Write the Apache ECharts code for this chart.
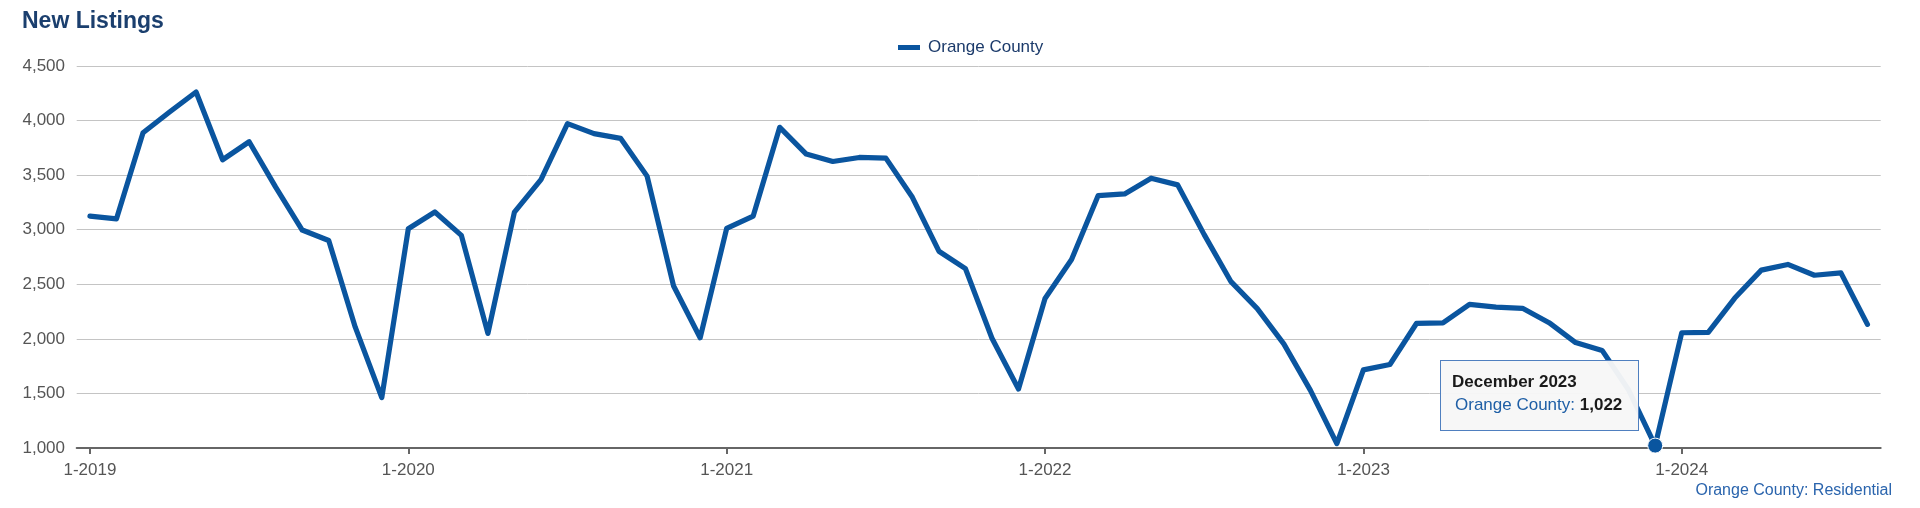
<!DOCTYPE html>
<html>
<head>
<meta charset="utf-8">
<script src="https://cdn.jsdelivr.net/npm/echarts@6/dist/echarts.min.js"></script>
<style>
html,body{margin:0;padding:0;background:#fff;}
#chart{width:1920px;height:508px;}
</style>
</head>
<body>
<div id="chart"></div>
<script>
const categories = [
  "1-2019","2-2019","3-2019","4-2019","5-2019","6-2019","7-2019","8-2019","9-2019","10-2019","11-2019","12-2019",
  "1-2020","2-2020","3-2020","4-2020","5-2020","6-2020","7-2020","8-2020","9-2020","10-2020","11-2020","12-2020",
  "1-2021","2-2021","3-2021","4-2021","5-2021","6-2021","7-2021","8-2021","9-2021","10-2021","11-2021","12-2021",
  "1-2022","2-2022","3-2022","4-2022","5-2022","6-2022","7-2022","8-2022","9-2022","10-2022","11-2022","12-2022",
  "1-2023","2-2023","3-2023","4-2023","5-2023","6-2023","7-2023","8-2023","9-2023","10-2023","11-2023","12-2023",
  "1-2024","2-2024","3-2024","4-2024","5-2024","6-2024","7-2024","8-2024"
];
const newListings = [
  3125, 3100, 3888, 4078, 4262, 3641, 3806, 3390, 2997, 2901, 2107, 1462,
  3009, 3162, 2948, 2050, 3162, 3459, 3972, 3880, 3837, 3491, 2484, 2010,
  3012, 3125, 3938, 3693, 3625, 3662, 3656, 3297, 2803, 2643, 2006, 1540,
  2370, 2727, 3312, 3328, 3472, 3411, 2955, 2527, 2277, 1954, 1530, 1040,
  1716, 1765, 2141, 2147, 2316, 2291, 2280, 2148, 1966, 1894, 1531, 1022,
  2056, 2060, 2374, 2630, 2682, 2583, 2605, 2133
];
const monthNames = ["January","February","March","April","May","June","July","August","September","October","November","December"];
const yTicks = [1000, 1500, 2000, 2500, 3000, 3500, 4000, 4500];
const seriesName = "Orange County";
const highlightIndex = 59;

const FONT = "'Liberation Sans', Arial, Helvetica, sans-serif";
const BLUE = "#0a559f";

const chart = echarts.init(document.getElementById('chart'), null, {renderer: 'canvas'});

const seriesData = newListings.map((v, i) => i === highlightIndex
  ? {value: v, symbol: 'circle', symbolSize: 15, itemStyle: {color: BLUE, borderColor: '#fff', borderWidth: 1}}
  : {value: v});

function fmt(n){ return n.toLocaleString('en-US'); }

chart.setOption({
  animation: false,
  title: {
    text: 'New Listings',
    left: 22, top: 10.5, padding: 0,
    textStyle: {fontFamily: FONT, fontSize: 23, fontWeight: 'bold', color: '#1b3f6e'}
  },
  legend: {
    data: [{name: seriesName, icon: 'rect'}],
    left: 898, top: 39, padding: 0,
    itemWidth: 22, itemHeight: 5,
    textStyle: {fontFamily: FONT, fontSize: 17, color: '#1c3b6b', padding: [0, 0, 0, 3]}
  },
  grid: {left: 76.7, right: 39.3, top: 66, bottom: 60, containLabel: false},
  tooltip: {
    trigger: 'item',
    alwaysShowContent: true,
    triggerOn: 'none',
    transitionDuration: 0,
    position: [1440, 360],
    backgroundColor: 'rgba(247,247,247,0.96)',
    borderColor: '#4f7fbf',
    borderWidth: 1,
    padding: [9, 11, 14, 11],
    textStyle: {fontFamily: FONT, fontSize: 17, color: '#222'},
    extraCssText: 'box-shadow:none;border-radius:0;width:199px;height:71px;box-sizing:border-box;line-height:23px;',
    formatter: function (p) {
      const parts = categories[p.dataIndex].split('-');
      const title = monthNames[parseInt(parts[0], 10) - 1] + ' ' + parts[1];
      return '<div style="font-weight:bold;color:#1a1a1a;">' + title + '</div>' +
             '<div style="padding-left:3px;"><span style="color:#1f5fa6;">' + p.seriesName + ': </span>' +
             '<b style="color:#1a1a1a;">' + fmt(p.value) + '</b></div>';
    }
  },
  xAxis: {
    type: 'category',
    data: categories,
    boundaryGap: true,
    axisLine: {show: true, lineStyle: {color: '#666', width: 2}},
    axisTick: {show: true, alignWithLabel: true, length: 6, interval: (i) => i % 12 === 0, lineStyle: {color: '#666', width: 2}},
    axisLabel: {interval: (i) => i % 12 === 0, fontFamily: FONT, fontSize: 17, color: '#555', margin: 14},
    splitLine: {show: false}
  },
  yAxis: {
    type: 'value',
    min: yTicks[0], max: yTicks[yTicks.length - 1], interval: yTicks[1] - yTicks[0],
    axisLine: {show: false},
    axisTick: {show: false},
    axisLabel: {fontFamily: FONT, fontSize: 17, color: '#555', margin: 11.7, formatter: (v) => fmt(v)},
    splitLine: {show: true, lineStyle: {color: '#c4c4c4', width: 1}}
  },
  series: [{
    name: seriesName,
    type: 'line',
    data: seriesData,
    symbol: 'none',
    showSymbol: true,
    color: BLUE,
    lineStyle: {color: BLUE, width: 5.2, join: 'round', cap: 'round'},
    emphasis: {scale: false, lineStyle: {width: 5.2}},
    z: 3
  }],
  graphic: [{
    type: 'text',
    right: 28, top: 483,
    style: {text: 'Orange County: Residential', fontFamily: FONT, fontSize: 16, fill: '#2a64ad'}
  }]
});

chart.dispatchAction({type: 'showTip', seriesIndex: 0, dataIndex: highlightIndex});
</script>
</body>
</html>
